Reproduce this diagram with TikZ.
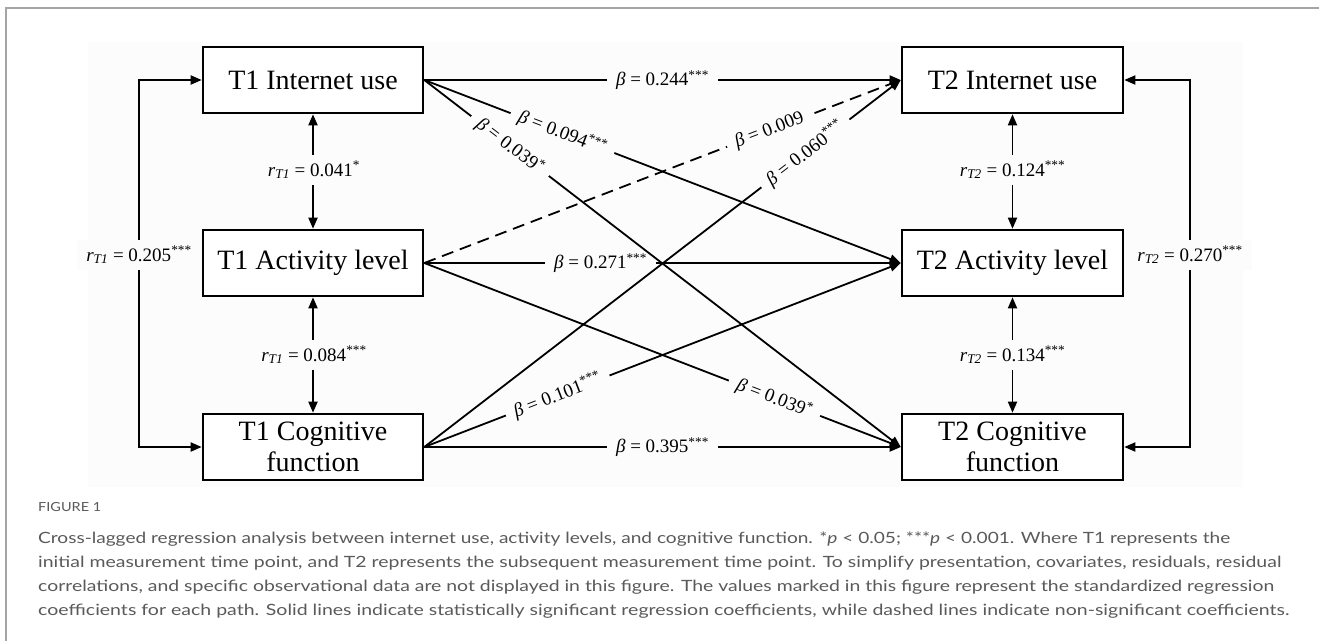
\documentclass[tikz,border=0pt]{standalone}
\usepackage{fontspec}
\usepackage{graphicx}
\setmainfont{Liberation Serif}
\newfontfamily\capfont{Lato}
\usetikzlibrary{arrows.meta}
\definecolor{figbg}{RGB}{252,252,252}
\definecolor{framegray}{RGB}{165,165,165}
\definecolor{captxt}{RGB}{90,90,90}
\newcommand\coef[2]{\textit{β} = #1\textsuperscript{#2}}
\newcommand\corr[3]{\textit{r}\textsubscript{\textit{#1}} = #2\textsuperscript{#3}}
\newcommand\capline[2]{\resizebox{#1}{\height}{\capfont\fontsize{15.5}{18}\selectfont #2}}
\begin{document}
\begin{tikzpicture}[x=1pt,y=-1pt,
 box/.style={draw=black,line width=2.6pt,minimum width=220pt,minimum height=66pt,inner sep=0pt,align=center,fill=white,font=\fontsize{28}{31}\selectfont},
 conn/.style={line width=1.8pt,-{Triangle[length=11pt,width=9pt]}},
 both/.style={line width=1.8pt,{Triangle[length=11pt,width=9pt]}-{Triangle[length=11pt,width=9pt]}},
 nsig/.style={dash pattern=on 12pt off 7pt},
 lab/.style={fill=figbg,font=\fontsize{19}{21}\selectfont,inner xsep=9pt,inner ysep=6pt},
 caps/.style={anchor=west,inner sep=0pt,text=captxt}
]
\useasboundingbox (0,0) rectangle (1319,641);
\fill[white] (0,0) rectangle (1319,641);
\draw[framegray,line width=1.5pt] (6,641) -- (6,8) -- (1319,8);
\fill[figbg] (88,42) rectangle (1243,487);

% boxes
\node[box] (i1) at (313,80) {T1 Internet use};
\node[box] (a1) at (313,263) {T1 Activity level};
\node[box] (c1) at (313,447) {T1 Cognitive\\function};
\node[box,minimum width=221pt] (i2) at (1012.5,80) {T2 Internet use};
\node[box,minimum width=221pt] (a2) at (1012.5,263) {T2 Activity level};
\node[box,minimum width=221pt] (c2) at (1012.5,447) {T2 Cognitive\\function};

\coordinate (L) at (139,255);
\coordinate (R) at (1190,255);

% horizontal connectors with their labels (drawn first, so diagonals pass over)
\draw[conn] (i1.east) -- node[lab,pos=.5] (b1) {\coef{0.244}{***}} (i2.west);
\draw[conn] (a1.east) -- node[lab,pos=.37] (b5) {\coef{0.271}{***}} (a2.west);
\draw[conn] (c1.east) -- node[lab,pos=.5] (b9) {\coef{0.395}{***}} (c2.west);

% diagonal connectors
\draw[conn] (i1.east) -- (a2.west);
\draw[conn] (i1.east) -- (c2.west);
\draw[conn,nsig] (a1.east) -- (i2.west);
\draw[conn] (a1.east) -- (c2.west);
\draw[conn] (c1.east) -- (i2.west);
\draw[conn] (c1.east) -- (a2.west);
\draw[both] (i1.south) -- (a1.north);
\draw[both] (a1.south) -- (c1.north);
\draw[both] (i2.south) -- (a2.north);
\draw[both] (a2.south) -- (c2.north);
\draw[both] (i1.west) -| (L) |- (c1.west);
\draw[both] (i2.east) -| (R) |- (c2.east);

% labels on diagonals
\path (i1.east) -- node[lab,sloped,pos=.29] (b2) {\coef{0.094}{***}} (a2.west);
\path (i1.east) -- node[lab,sloped,pos=.18] (b3) {\coef{0.039}{*}} (c2.west);
\path (a1.east) -- node[lab,sloped,pos=.725] (b4) {\coef{0.009}{}} (i2.west);
\path (a1.east) -- node[lab,sloped,pos=.735] (b6) {\coef{0.039}{*}} (c2.west);
\path (c1.east) -- node[lab,sloped,pos=.80] (b7) {\coef{0.060}{***}} (i2.west);
\path (c1.east) -- node[lab,sloped,pos=.28] (b8) {\coef{0.101}{***}} (a2.west);

\node[lab] (r1) at (314,170) {\corr{T1}{0.041}{*}};
\node[lab] (r2) at (314,355) {\corr{T1}{0.084}{***}};
\node[lab] (r3) at (1012.5,170) {\corr{T2}{0.124}{***}};
\node[lab] (r4) at (1012.5,355) {\corr{T2}{0.134}{***}};
\node[lab] (r5) at (L) {\corr{T1}{0.205}{***}};
\node[lab] (r6) at (R) {\corr{T2}{0.270}{***}};

% caption
\node[caps] (fig) at (38,507) {\resizebox{63pt}{\height}{\capfont\fontsize{12.5}{14}\selectfont FIGURE 1}};
\node[caps] (cap1) at (38,539) {\capline{1192pt}{Cross-lagged regression analysis between internet use, activity levels, and cognitive function. *\textit{p} < 0.05; ***\textit{p} < 0.001. Where T1 represents the}};
\node[caps] (cap2) at (38,563) {\capline{1243pt}{initial measurement time point, and T2 represents the subsequent measurement time point. To simplify presentation, covariates, residuals, residual}};
\node[caps] (cap3) at (38,587) {\capline{1236pt}{correlations, and specific observational data are not displayed in this figure. The values marked in this figure represent the standardized regression}};
\node[caps] (cap4) at (38,611) {\capline{1251pt}{coefficients for each path. Solid lines indicate statistically significant regression coefficients, while dashed lines indicate non-significant coefficients.}};
\end{tikzpicture}
\end{document}
